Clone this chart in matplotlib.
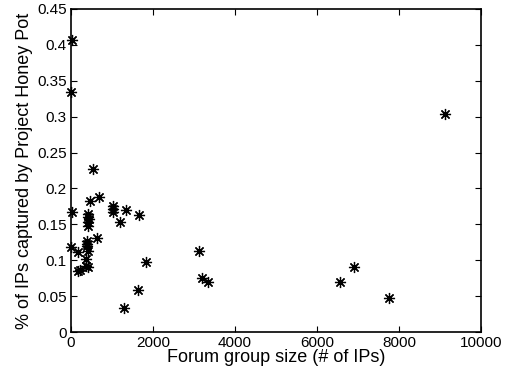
import matplotlib
matplotlib.use("Agg")
import matplotlib.pyplot as plt

plt.rcParams['font.family'] = ['Liberation Sans', 'DejaVu Sans']

group_size = [30, 0, 24, 0, 163, 528, 462, 673, 1020, 1030, 1030, 1338, 1192, 1662,
              404, 404, 440, 404, 404, 633, 382, 400, 380, 420, 365, 163, 219, 365,
              404, 1281, 1646, 1839, 3123, 3204, 3350, 6569, 6900, 7754, 9124]
pct_captured = [0.407, 0.334, 0.167, 0.118, 0.111, 0.227, 0.182, 0.188, 0.175, 0.171,
                0.167, 0.170, 0.153, 0.163, 0.164, 0.160, 0.157, 0.153, 0.148, 0.131,
                0.127, 0.123, 0.120, 0.113, 0.102, 0.085, 0.086, 0.092, 0.091, 0.033,
                0.059, 0.097, 0.113, 0.075, 0.069, 0.070, 0.091, 0.048, 0.304]

x_ticks = [0, 2000, 4000, 6000, 8000, 10000]
y_ticks = [0, 0.05, 0.1, 0.15, 0.2, 0.25, 0.3, 0.35, 0.4, 0.45]
y_tick_labels = ['0', '0.05', '0.1', '0.15', '0.2', '0.25', '0.3', '0.35', '0.4', '0.45']

fig = plt.figure(figsize=(5.1, 3.75), dpi=100)
ax = fig.add_axes([71/510, 43/375, 410/510, 323/375])
ax.plot(group_size, pct_captured, linestyle='none', marker=(8, 2, 0), color='black',
        markersize=8, markeredgewidth=0.9, clip_on=False)
ax.set_xlim(0, 10000)
ax.set_ylim(0, 0.45)
ax.set_xticks(x_ticks)
ax.set_xticklabels([str(t) for t in x_ticks])
ax.set_yticks(y_ticks)
ax.set_yticklabels(y_tick_labels)
ax.tick_params(direction='in', top=True, right=True, length=4, width=0.8,
               labelsize=11, pad=3)
for s in ax.spines.values():
    s.set_linewidth(1.2)
ax.set_xlabel('Forum group size (# of IPs)', fontsize=13, labelpad=-1)
ax.set_ylabel('% of IPs captured by Project Honey Pot', fontsize=13, labelpad=3)
fig.savefig('out.png', dpi=100)
